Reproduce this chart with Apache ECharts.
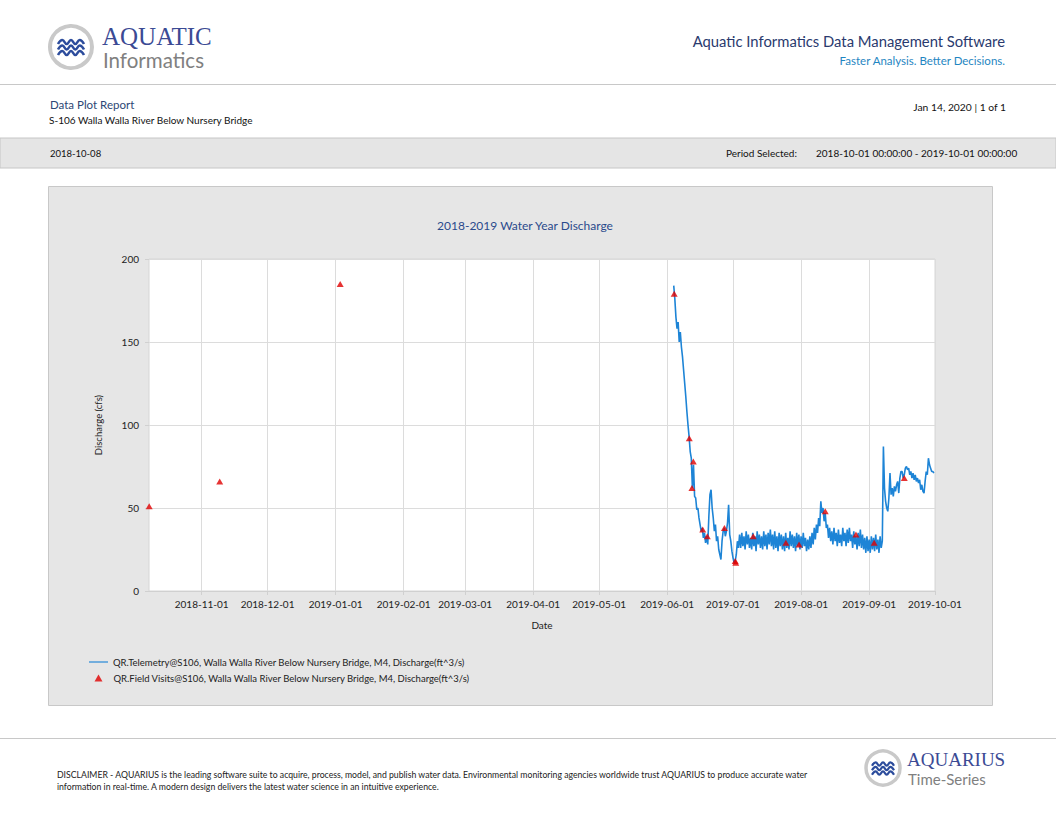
<!DOCTYPE html>
<html lang="en">
<head>
<meta charset="utf-8" />
<script src="https://cdn.jsdelivr.net/npm/echarts@6/dist/echarts.min.js"></script>
</head>
<body style="margin: 0; background: #fff">
<div id="container" style="width: 1056px; height: 816px;"></div>
<script type="text/javascript">
// telemetry: two readings per day, starting at telemetryStart
var telemetryStart = '2019-06-04 00:00';
var telemetryStepHours = 12;
var telemetryValues = [
    184, 176, 165, 158, 162, 150, 156, 147, 141, 133, 125, 117, 108, 100, 93, 84, 80, 62, 76, 57,
    56, 49, 50, 44, 40, 36, 38, 32, 35, 29, 33, 28, 45, 58, 61, 50, 44, 36, 40, 30,
    33, 25, 22, 19, 30, 36, 38, 33, 36, 41, 52, 34, 30, 24, 20, 17, 18, 22, 30, 26,
    34, 26, 35, 27, 33, 25, 36, 28, 34, 26, 32, 25, 35, 27, 33, 24, 36, 28, 34, 26,
    33, 25, 36, 27, 34, 25, 35, 28, 37, 27, 34, 25, 36, 26, 33, 24, 35, 27, 34, 25,
    33, 24, 35, 26, 32, 25, 36, 27, 34, 26, 33, 24, 35, 27, 34, 25, 33, 26, 35, 27,
    32, 24, 31, 25, 33, 26, 35, 28, 38, 31, 40, 35, 44, 39, 54, 47, 50, 42, 47, 38,
    40, 32, 38, 30, 36, 28, 38, 30, 35, 27, 37, 29, 34, 27, 38, 30, 35, 27, 37, 29,
    38, 30, 34, 26, 36, 28, 33, 25, 35, 27, 37, 26, 34, 25, 32, 23, 33, 24, 31, 23,
    33, 25, 32, 24, 34, 25, 31, 23, 33, 26, 30, 87, 62, 54, 50, 48, 56, 71, 58, 62,
    57, 63, 60, 64, 66, 59, 68, 72, 72, 68, 70, 74, 75, 73, 74, 70, 72, 68, 71, 67,
    70, 66, 68, 65, 67, 61, 64, 60, 59, 66, 72, 70, 80, 76, 74, 72, 72, 71
];

var visitDates = [
    '2018-10-08 02:00', '2018-11-09 05:00', '2019-01-03 02:00', '2019-06-04 05:00',
    '2019-06-11 02:00', '2019-06-12 07:00', '2019-06-12 22:00', '2019-06-17 05:00',
    '2019-06-19 07:00', '2019-06-27 02:00', '2019-07-02 00:00', '2019-07-02 06:00',
    '2019-07-10 05:00', '2019-07-25 02:00', '2019-07-31 02:00', '2019-08-12 00:00',
    '2019-08-26 00:00', '2019-09-03 07:00', '2019-09-17 00:00'
];
var visitValues = [51, 66, 185, 179, 92, 62, 78, 37, 33, 38, 18, 17, 33, 29, 28, 48, 34, 29, 68];

var monthTicks = [
    '2018-11-01', '2018-12-01', '2019-01-01', '2019-02-01', '2019-03-01', '2019-04-01',
    '2019-05-01', '2019-06-01', '2019-07-01', '2019-08-01', '2019-09-01', '2019-10-01'
];
var axisStart = '2018-10-08';
var axisEnd = '2019-10-01';
var yTicks = [0, 50, 100, 150, 200];

var telemetryName = 'QR.Telemetry@S106, Walla Walla River Below Nursery Bridge, M4, Discharge(ft^3/s)';
var visitName = 'QR.Field Visits@S106, Walla Walla River Below Nursery Bridge, M4, Discharge(ft^3/s)';

function toTime(s) {
    return new Date(s.replace(/-/g, '/')).getTime();
}
function pad(n) {
    return (n < 10 ? '0' : '') + n;
}
function fmtDate(t) {
    var d = new Date(t);
    return d.getFullYear() + '-' + pad(d.getMonth() + 1) + '-' + pad(d.getDate());
}

var t0 = toTime(telemetryStart);
var telemetryData = telemetryValues.map(function (v, i) {
    return [t0 + i * telemetryStepHours * 3600000, v];
});
var visitData = visitDates.map(function (s, i) {
    return [toTime(s), visitValues[i]];
});
var tickTimes = monthTicks.map(toTime);

var font = 'Lato';
var legendText = { fontSize: 9.5, color: '#222', fontFamily: font };

// logo wave: smooth zigzag polyline
function wave(x0, y, w, h, lw) {
    var s = w / 6, pts = [];
    for (var k = 0; k <= 6; k++) {
        pts.push([x0 + k * s, y + (k % 2 ? -h / 2 : h / 2)]);
    }
    return {
        type: 'polyline', silent: true,
        shape: { points: pts, smooth: 0.5 },
        style: { fill: 'none', stroke: '#2c4c9c', lineWidth: lw }
    };
}
function txt(x, y, text, size, color, align, family) {
    return {
        type: 'text', x: x, y: y, silent: true,
        style: {
            text: text, fontSize: size, fontFamily: family || font, fill: color,
            align: align || 'left', verticalAlign: 'middle'
        }
    };
}

var dom = document.getElementById('container');
var myChart = echarts.init(dom, null, { renderer: 'svg' });

var option = {
    backgroundColor: '#ffffff',
    animation: false,
    textStyle: { fontFamily: font },
    graphic: [
        // header
        { type: 'circle', shape: { cx: 71, cy: 47, r: 21 }, style: { fill: '#fff', stroke: '#c9c9c9', lineWidth: 4 }, silent: true },
        wave(58, 42, 26, 4, 2.6),
        wave(58, 47.5, 26, 4, 2.6),
        wave(58, 53, 26, 4, 2.6),
        txt(102, 36, 'AQUATIC', 25, '#3b4a94', 'left', 'Liberation Serif'),
        txt(103, 60, 'Informatics', 20.5, '#808080'),
        txt(1005, 41, 'Aquatic Informatics Data Management Software', 14.8, '#2a3a6e', 'right'),
        txt(1005, 60, 'Faster Analysis. Better Decisions.', 11.5, '#1f86c2', 'right'),
        { type: 'rect', shape: { x: 0, y: 84, width: 1056, height: 1 }, style: { fill: '#c8c8c8' }, silent: true },
        txt(50, 104, 'Data Plot Report', 11.5, '#2d4775'),
        txt(49, 120, 'S-106 Walla Walla River Below Nursery Bridge', 10, '#111'),
        txt(1006, 107, 'Jan 14, 2020 | 1 of 1', 10.3, '#111', 'right'),
        { type: 'rect', shape: { x: 0, y: 138, width: 1056, height: 30 }, style: { fill: '#e5e5e5', stroke: '#c6c6c6', lineWidth: 1 }, silent: true },
        txt(50, 153, '2018-10-08', 9.5, '#111'),
        txt(726, 153, 'Period Selected:', 10, '#111'),
        txt(816, 153, '2018-10-01 00:00:00 - 2019-10-01 00:00:00', 10, '#111'),
        // chart panel
        { type: 'rect', z: -10, shape: { x: 48.5, y: 186.5, width: 944, height: 519 }, style: { fill: '#e6e6e6', stroke: '#c8c8c8', lineWidth: 1 }, silent: true },
        // footer
        { type: 'rect', shape: { x: 0, y: 738, width: 1056, height: 1 }, style: { fill: '#c8c8c8' }, silent: true },
        txt(57, 774, 'DISCLAIMER - AQUARIUS is the leading software suite to acquire, process, model, and publish water data. Environmental monitoring agencies worldwide trust AQUARIUS to produce accurate water', 8.7, '#222'),
        txt(57, 786, 'information in real-time. A modern design delivers the latest water science in an intuitive experience.', 8.7, '#222'),
        { type: 'circle', shape: { cx: 883, cy: 768, r: 17 }, style: { fill: '#fff', stroke: '#c9c9c9', lineWidth: 3.5 }, silent: true },
        wave(872, 764, 22, 3.4, 2.2),
        wave(872, 768.5, 22, 3.4, 2.2),
        wave(872, 773, 22, 3.4, 2.2),
        txt(907, 759, 'AQUARIUS', 19, '#3b4a94', 'left', 'Liberation Serif'),
        txt(908, 779, 'Time-Series', 15, '#808080')
    ],
    title: {
        text: '2018-2019 Water Year Discharge',
        left: 520,
        top: 214,
        textAlign: 'center',
        textStyle: { fontSize: 12, fontWeight: 'normal', color: '#2b4a8c', fontFamily: font }
    },
    legend: [
        {
            orient: 'vertical',
            left: 84,
            top: 652,
            itemWidth: 19,
            itemHeight: 7,
            textStyle: legendText,
            data: [{ name: telemetryName, icon: 'path://M0,0 L20,0 L20,1.2 L0,1.2 Z' }]
        },
        {
            orient: 'vertical',
            left: 89.5,
            top: 668,
            itemWidth: 8,
            itemHeight: 7,
            textStyle: Object.assign({ padding: [0, 0, 0, 6] }, legendText),
            data: [{ name: visitName, icon: 'triangle', itemStyle: { color: '#e00000' } }]
        }
    ],
    grid: {
        left: 149,
        top: 259,
        width: 786,
        height: 332,
        show: true,
        backgroundColor: '#ffffff',
        borderColor: '#d6d6d6',
        borderWidth: 1
    },
    xAxis: {
        type: 'value',
        min: toTime(axisStart),
        max: toTime(axisEnd),
        name: 'Date',
        nameLocation: 'middle',
        nameGap: 29,
        nameTextStyle: { fontSize: 10, color: '#222', fontFamily: font },
        axisLine: { show: true, lineStyle: { color: '#d0d0d0' } },
        axisTick: { show: true, length: 4, lineStyle: { color: '#d0d0d0' }, customValues: tickTimes },
        axisLabel: {
            customValues: tickTimes,
            fontSize: 10,
            color: '#222',
            margin: 8,
            fontFamily: font,
            formatter: function (v) { return fmtDate(v); }
        },
        splitLine: { show: true, lineStyle: { color: '#dcdcdc' } }
    },
    yAxis: {
        type: 'value',
        min: yTicks[0],
        max: yTicks[yTicks.length - 1],
        interval: 50,
        name: 'Discharge (cfs)',
        nameLocation: 'middle',
        nameGap: 46,
        nameTextStyle: { fontSize: 9.5, color: '#222', fontFamily: font },
        axisLine: { show: false },
        axisTick: { show: true, length: 4, lineStyle: { color: '#d0d0d0' } },
        axisLabel: { fontSize: 10, color: '#222', margin: 10, fontFamily: font },
        splitLine: { show: true, lineStyle: { color: '#dcdcdc' } }
    },
    series: [
        {
            name: telemetryName,
            type: 'line',
            symbol: 'none',
            sampling: 'none',
            color: '#1d84d6',
            lineStyle: { width: 1.6, color: '#1d84d6' },
            data: telemetryData,
            z: 2
        },
        {
            name: visitName,
            type: 'scatter',
            symbol: 'triangle',
            symbolSize: [7, 6],
            color: '#e00000',
            itemStyle: { color: '#e00000' },
            clip: false,
            data: visitData,
            z: 3
        }
    ]
};

myChart.setOption(option);
</script>
</body>
</html>
